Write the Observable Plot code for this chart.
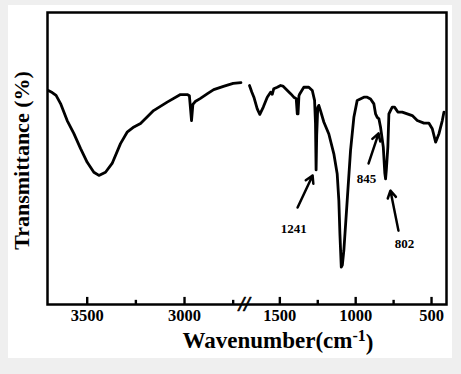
<!DOCTYPE html>
<html>
<head>
<meta charset="utf-8">
<script src="https://cdn.jsdelivr.net/npm/d3@7"></script>
<script src="https://cdn.jsdelivr.net/npm/@observablehq/plot@0.6"></script>
<style>
  html, body { margin: 0; padding: 0; background: #efefef; }
  #wrap { position: relative; width: 461px; height: 374px; }
  #panel { position: absolute; left: 8px; top: 5px; width: 444px; height: 353px; background: #ffffff; }
  #chart { position: absolute; left: 0; top: 0; }
</style>
</head>
<body>
<div id="wrap"><div id="panel"></div><div id="chart"></div></div>
<script>
// Left segment (3700-2700 cm-1)
const wnLeft = [3700,3680,3660,3637,3603,3569,3534,3500,3466,3440,3406,3372,3329,3295,3260,3226,3159,3089,3021,2986,2975,2964,2957,2945,2920,2880,2850,2800,2750,2710];
const tLeft  = [73.3,72.6,71.6,68.8,63.0,58.6,53.4,48.7,45.3,44.2,45.3,48.3,55.1,59.0,60.8,62.0,66.4,69.3,71.9,71.9,71.5,63.0,68.5,69.5,70.5,72.3,73.6,74.7,75.7,76.0];
// Right segment (1700-400 cm-1)
const wnRight = [1704,1685,1671,1649,1632,1609,1583,1561,1550,1540,1517,1495,1480,1462,1429,1408,1392,1385,1380,1374,1368,1342,1309,1286,1271,1265,1261,1257,1250,1243,1232,1210,1177,1144,1122,1111,1104,1095,1088,1078,1056,1034,1012,990,946,924,902,880,869,858,847,836,818,808,803,798,788,781,770,759,744,722,693,660,627,594,550,517,495,473,451,429,418];
const tRight  = [75.0,72.8,71.0,67.0,65.1,67.6,71.0,72.7,72.0,73.9,74.4,75.0,74.8,73.9,72.2,71.0,70.5,65.3,65.3,71.5,72.2,74.4,74.4,73.3,69.9,62.0,46.1,58.0,67.5,68.2,66.4,62.5,58.4,51.6,44.8,35.6,24.2,12.8,13.5,18.5,35.6,52.7,64.1,69.9,71.0,71.0,70.4,68.7,65.3,64.1,63.6,60.7,53.9,45.0,43.0,46.0,53.9,65.3,66.5,67.6,67.6,65.9,65.9,65.3,64.7,63.0,62.1,62.1,60.2,55.6,58.5,63.0,65.9];

const majorTicks = [3500, 3000, 1500, 1000, 500];
const minorTicks = [3250, 2750, 1250, 750];
const breakAt = [2500];

const peakLabels = ["1241", "845", "802"];
const peakLabelWn = [1408, 928, 678];
const peakLabelT = [26.0, 43.2, 20.9];
const arrowFromWn = [1383, 915, 718];
const arrowFromT = [33.2, 48.3, 25.3];
const arrowToWn = [1284, 849, 771];
const arrowToT = [44.2, 58.6, 39.0];

const xTitle = "Wavenumber(cm-1)";
const yTitle = "Transmittance (%)";

const spectrum = [
  ...wnLeft.map((w, i) => ({wn: w, t: tLeft[i], seg: "high"})),
  ...wnRight.map((w, i) => ({wn: w, t: tRight[i], seg: "low"}))
];
const annos = peakLabels.map((s, i) => ({
  label: s, lx: peakLabelWn[i], ly: peakLabelT[i],
  x1: arrowFromWn[i], y1: arrowFromT[i], x2: arrowToWn[i], y2: arrowToT[i]
}));
const tickMarks = [
  ...majorTicks.map(v => ({wn: v, wn2: v, lo: 0, hi: 2.6})),
  ...minorTicks.map(v => ({wn: v, wn2: v, lo: 0, hi: 1.6}))
];

// broken axis: 3700-2700 and 1700-400 share the frame at different densities
const brokenAxis = d3.scaleLinear().domain([3700, 2700, 1700, 400]).range([0.8, 195.4, 202, 399.2]);

const serif = "'Liberation Serif', 'Times New Roman', serif";

const plot = Plot.plot({
  width: 461,
  height: 374,
  marginLeft: 47,
  marginRight: 15,
  marginTop: 12,
  marginBottom: 70,
  style: {background: "transparent", fontFamily: serif, fontWeight: "bold", color: "#000"},
  x: {type: "linear", domain: [0, 399], transform: brokenAxis, axis: null},
  y: {domain: [0, 100], axis: null},
  marks: [
    Plot.line(spectrum, {x: "wn", y: "t", z: "seg", stroke: "#000", strokeWidth: 2.8, strokeLinejoin: "round"}),
    Plot.link(tickMarks, {x1: "wn", x2: "wn2", y1: "lo", y2: "hi", stroke: "#000", strokeWidth: 2.4}),
    Plot.frame({stroke: "#000", strokeWidth: 2.5}),
    Plot.text(majorTicks, {x: d => d, frameAnchor: "bottom", text: d => String(d), dy: 16, fontSize: 16.5, fontWeight: "bold", fill: "#000"}),
    Plot.text(breakAt, {x: d => d, y: 0, text: () => "//", fontSize: 20, fontWeight: "bold", fill: "#000", fontStyle: "italic", stroke: "#000", strokeWidth: 0.6}),
    Plot.arrow(annos, {x1: "x1", y1: "y1", x2: "x2", y2: "y2", stroke: "#000", strokeWidth: 2.5, headLength: 5}),
    Plot.text(annos, {x: "lx", y: "ly", text: "label", fontSize: 13, fontWeight: "bold", fill: "#000"}),
    Plot.text([yTitle], {frameAnchor: "left", textAnchor: "middle", text: d => d, rotate: -90, dx: -26, dy: 2, fontSize: 22, fontWeight: "bold", fill: "#000"}),
    Plot.text([xTitle], {frameAnchor: "bottom", textAnchor: "middle", text: d => d, dx: 31, dy: 43, fontSize: 23, fontWeight: "bold", fill: "#000"})
  ]
});

document.getElementById("chart").appendChild(plot);

// superscript for the x title
d3.select(plot).selectAll("text").filter(function() { return this.textContent === xTitle; })
  .each(function() {
    const t = d3.select(this);
    t.text(null);
    t.append("tspan").text("Wavenumber(cm");
    t.append("tspan").attr("dy", "-0.4em").attr("font-size", 16).text("-1");
    t.append("tspan").attr("dy", "0.4em").text(")");
  });
</script>
</body>
</html>
